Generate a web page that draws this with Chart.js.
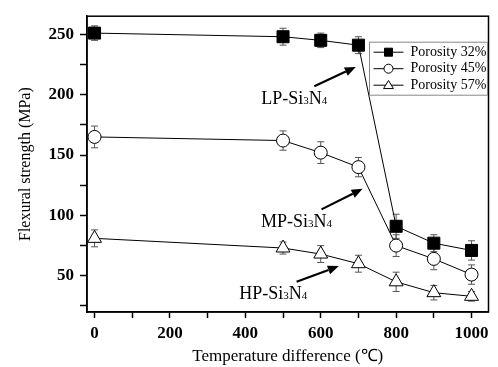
<!DOCTYPE html>
<html>
<head>
<meta charset="utf-8">
<script src="https://cdn.jsdelivr.net/npm/chart.js@4.4.1/dist/chart.umd.min.js"></script>
<style>
  html, body { margin: 0; padding: 0; background: #fff; }
  #wrap { width: 498px; height: 367px; }
</style>
</head>
<body>
<div id="wrap"><canvas id="chart"></canvas></div>
<script>
const temps = [0, 500, 600, 700, 800, 900, 1000];
const porosity32 = [251, 248, 245, 241, 91, 77, 71];
const porosity45 = [165, 162, 152, 140, 75, 64, 51];
const porosity57 = [81, 73, 68, 60, 45, 36, 33];
const err32 = [6, 7, 6, 7, 10, 7, 8];
const err45 = [9, 8, 9, 8, 9, 9, 8];
const err57 = [7, 5, 7, 7, 8, 6, 4];
const seriesLabels = ['Porosity 32%', 'Porosity 45%', 'Porosity 57%'];
const xTicks = [0, 100, 200, 300, 400, 500, 600, 700, 800, 900, 1000];
const yTicks = [25, 50, 75, 100, 125, 150, 175, 200, 225, 250];

// labels with arrows, placed in data units
const notes = [
    { parts: ['LP-Si', '3', 'N', '4'], x: 530, y: 197, from: [583, 207], to: [693, 223] },
    { parts: ['MP-Si', '3', 'N', '4'], x: 536, y: 95, from: [602, 105], to: [711, 122] },
    { parts: ['HP-Si', '3', 'N', '4'], x: 474, y: 36, from: [536, 45], to: [648, 58] }
];

const serif = "'Liberation Serif', 'Times New Roman', serif";

function toPoints(ys) {
    return temps.map((t, i) => ({ x: t, y: ys[i] }));
}

const errorBars = {
    id: 'errorBars',
    beforeDatasetsDraw(chart) {
        const ctx = chart.ctx;
        const errs = [err32, err45, err57];
        const ys = chart.scales.y;
        ctx.save();
        ctx.strokeStyle = '#555';
        ctx.lineWidth = 1;
        chart.data.datasets.forEach((ds, d) => {
            const meta = chart.getDatasetMeta(d);
            meta.data.forEach((pt, i) => {
                const v = ds.data[i].y;
                const top = ys.getPixelForValue(v + errs[d][i]);
                const bot = ys.getPixelForValue(v - errs[d][i]);
                ctx.beginPath();
                ctx.moveTo(pt.x, top); ctx.lineTo(pt.x, bot);
                ctx.moveTo(pt.x - 3.5, top); ctx.lineTo(pt.x + 3.5, top);
                ctx.moveTo(pt.x - 3.5, bot); ctx.lineTo(pt.x + 3.5, bot);
                ctx.stroke();
            });
        });
        ctx.restore();
    }
};

function drawMarker(ctx, style, x, y, r) {
    ctx.beginPath();
    if (style === 'rect') {
        ctx.rect(x - r, y - r, 2 * r, 2 * r);
        ctx.fillStyle = '#000';
    } else if (style === 'circle') {
        ctx.arc(x, y, r, 0, Math.PI * 2);
        ctx.fillStyle = '#fff';
    } else {
        ctx.moveTo(x, y - r * 1.05);
        ctx.lineTo(x + r * 1.1, y + r * 0.75);
        ctx.lineTo(x - r * 1.1, y + r * 0.75);
        ctx.closePath();
        ctx.fillStyle = '#fff';
    }
    ctx.fill();
    ctx.stroke();
}

const extras = {
    id: 'extras',
    afterDraw(chart) {
        const { ctx, chartArea: a, scales: { x, y } } = chart;
        ctx.save();

        // frame
        ctx.strokeStyle = '#000';
        ctx.lineWidth = 1.5;
        ctx.strokeRect(a.left, a.top, a.right - a.left, a.bottom - a.top);

        // legend
        const lx = a.right - 119, ly = a.top + 26;
        ctx.lineWidth = 1;
        ctx.strokeStyle = '#888';
        ctx.strokeRect(lx, ly, 118, 53);
        const styles = ['rect', 'circle', 'triangle'];
        ctx.font = '14px ' + serif;
        ctx.textBaseline = 'middle';
        seriesLabels.forEach((lab, i) => {
            const yy = ly + 10 + i * 16.5;
            ctx.strokeStyle = '#000';
            ctx.beginPath();
            ctx.moveTo(lx + 4, yy); ctx.lineTo(lx + 34, yy);
            ctx.stroke();
            drawMarker(ctx, styles[i], lx + 19, yy, styles[i] === 'rect' ? 4 : 4.5);
            ctx.fillStyle = '#000';
            ctx.fillText(lab, lx + 41, yy);
        });

        // annotations
        notes.forEach(n => {
            const big = '18px ' + serif, small = '11px ' + serif;
            let w = 0;
            n.parts.forEach((p, i) => {
                ctx.font = i % 2 ? small : big;
                w += ctx.measureText(p).width;
            });
            let cx = x.getPixelForValue(n.x) - w / 2;
            const cy = y.getPixelForValue(n.y) + 6;
            ctx.textBaseline = 'alphabetic';
            ctx.fillStyle = '#000';
            n.parts.forEach((p, i) => {
                ctx.font = i % 2 ? small : big;
                ctx.fillText(p, cx, cy);
                cx += ctx.measureText(p).width;
            });
            const x0 = x.getPixelForValue(n.from[0]), y0 = y.getPixelForValue(n.from[1]);
            const x1 = x.getPixelForValue(n.to[0]), y1 = y.getPixelForValue(n.to[1]);
            const ang = Math.atan2(y1 - y0, x1 - x0);
            const hl = 11, hw = 4.5;
            const bx = x1 - hl * Math.cos(ang), by = y1 - hl * Math.sin(ang);
            ctx.strokeStyle = '#000';
            ctx.lineWidth = 2.2;
            ctx.beginPath();
            ctx.moveTo(x0, y0); ctx.lineTo(bx, by);
            ctx.stroke();
            ctx.beginPath();
            ctx.moveTo(x1, y1);
            ctx.lineTo(bx + hw * Math.sin(ang), by - hw * Math.cos(ang));
            ctx.lineTo(bx - hw * Math.sin(ang), by + hw * Math.cos(ang));
            ctx.closePath();
            ctx.fillStyle = '#000';
            ctx.fill();
        });
        ctx.restore();
    }
};

const ctx = document.getElementById('chart').getContext('2d');
new Chart(ctx, {
    type: 'line',
    data: {
        datasets: [
            {
                label: seriesLabels[0],
                data: toPoints(porosity32),
                borderColor: '#000',
                borderWidth: 1,
                pointStyle: 'rect',
                pointRadius: 8.5,
                pointBackgroundColor: '#000',
                pointBorderColor: '#000',
                pointBorderWidth: 1
            },
            {
                label: seriesLabels[1],
                data: toPoints(porosity45),
                borderColor: '#000',
                borderWidth: 1,
                pointStyle: 'circle',
                pointRadius: 6.5,
                pointBackgroundColor: '#fff',
                pointBorderColor: '#000',
                pointBorderWidth: 1
            },
            {
                label: seriesLabels[2],
                data: toPoints(porosity57),
                borderColor: '#000',
                borderWidth: 1,
                pointStyle: 'triangle',
                pointRadius: 8,
                pointBackgroundColor: '#fff',
                pointBorderColor: '#000',
                pointBorderWidth: 1
            }
        ]
    },
    options: {
        responsive: true,
        maintainAspectRatio: false,
        animation: false,
        layout: { padding: { top: 12, right: 4, left: 0, bottom: 0 } },
        plugins: {
            legend: { display: false },
            tooltip: { enabled: false }
        },
        scales: {
            x: {
                type: 'linear',
                min: -20,
                max: 1045,
                afterBuildTicks: s => { s.ticks = xTicks.map(v => ({ value: v })); },
                afterFit: s => { s.height = 55; },
                grid: { drawOnChartArea: false, tickLength: 6, color: '#000', tickWidth: 1.5 },
                border: { color: '#000', width: 1.5 },
                ticks: {
                    autoSkip: false,
                    maxRotation: 0,
                    padding: 5,
                    color: '#000',
                    font: { family: serif, size: 17, weight: 'bold' },
                    callback: v => (v % 200 === 0 ? v : '')
                },
                title: {
                    display: true,
                    text: 'Temperature difference (℃)',
                    color: '#000',
                    font: { family: serif, size: 17 },
                    padding: { top: 0, bottom: 0 }
                }
            },
            y: {
                min: 20,
                max: 265,
                afterBuildTicks: s => { s.ticks = yTicks.map(v => ({ value: v })); },
                afterFit: s => { s.width = 87; },
                grid: { drawOnChartArea: false, tickLength: 7, color: '#000', tickWidth: 1.5 },
                border: { color: '#000', width: 1.5 },
                ticks: {
                    padding: 6,
                    color: '#000',
                    font: { family: serif, size: 17, weight: 'bold' },
                    callback: v => (v % 50 === 0 ? v : '')
                },
                title: {
                    display: true,
                    text: 'Flexural strength (MPa)',
                    color: '#000',
                    font: { family: serif, size: 16 },
                    padding: { top: 16, bottom: 0 }
                }
            }
        }
    },
    plugins: [errorBars, extras]
});
</script>
</body>
</html>
